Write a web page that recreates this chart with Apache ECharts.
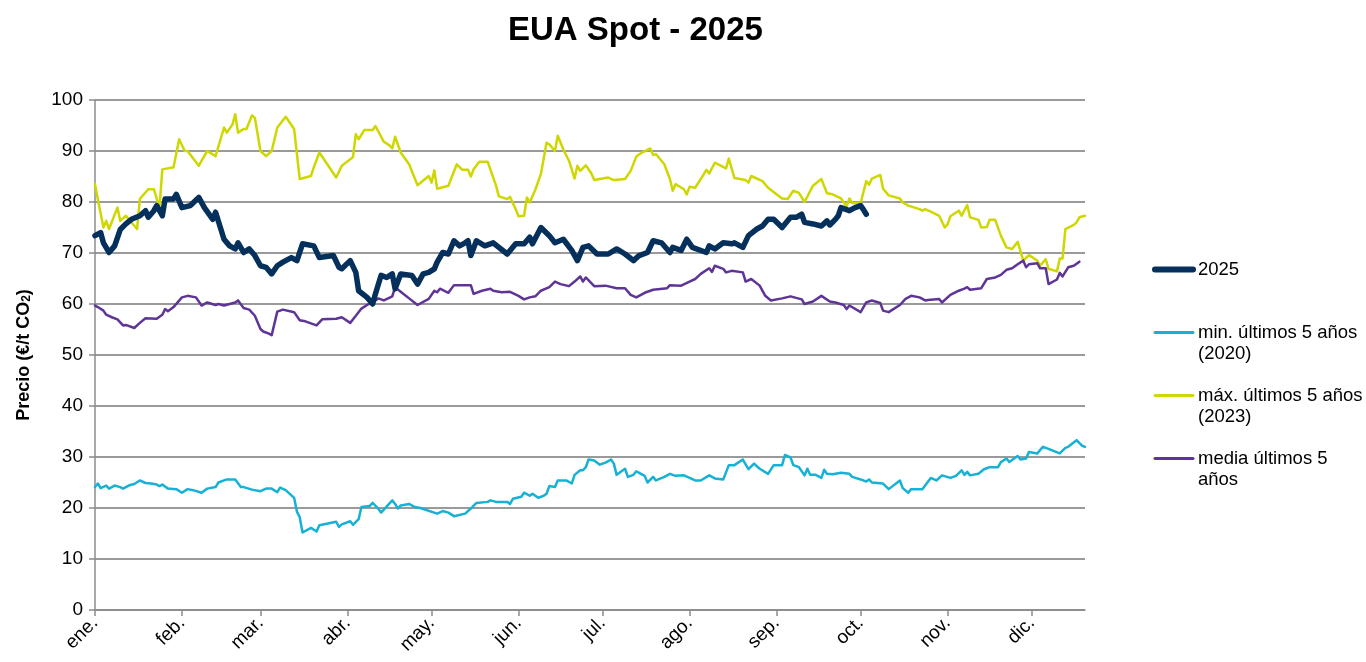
<!DOCTYPE html>
<html><head><meta charset="utf-8">
<script src="https://cdn.jsdelivr.net/npm/echarts@6/dist/echarts.min.js"></script>
<style>html,body{margin:0;padding:0;background:#fff}#c{width:1366px;height:662px}</style>
</head><body><div id="c"></div>
<script>
const YEAR = 2025;
const monthLabels = ['ene.','feb.','mar.','abr.','may.','jun.','jul.','ago.','sep.','oct.','nov.','dic.'];
const axisStart = '01-01', axisEnd = '12-20';
const yTicks = {min: 0, max: 100, step: 10};
const names = ['2025', 'min. últimos 5 años\n(2020)', 'máx. últimos 5 años\n(2023)', 'media últimos 5\naños'];

// 2025
const dates2025 = ['01-01','01-03','01-04','01-06','01-08','01-10','01-12','01-14','01-17','01-19','01-20','01-22','01-23','01-25','01-26','01-29','01-30',
'02-01','02-04','02-07','02-09','02-12','02-13','02-16','02-18','02-20','02-21','02-23','02-25','02-27',
'03-01','03-03','03-05','03-07','03-09','03-12','03-14','03-16','03-20','03-22','03-27','03-29','03-30',
'04-02','04-04','04-05','04-08','04-10','04-11','04-13','04-15','04-17','04-18','04-20','04-24','04-26','04-28','04-30',
'05-02','05-03','05-05','05-07','05-09','05-11','05-13','05-14','05-15','05-17','05-20','05-23','05-25','05-28','05-31',
'06-03','06-05','06-06','06-09','06-12','06-14','06-17','06-20','06-22','06-24','06-26','06-29',
'07-03','07-06','07-09','07-12','07-14','07-17','07-19','07-22','07-25','07-26','07-29','07-31',
'08-02','08-07','08-08','08-10','08-13','08-16','08-17','08-20','08-22','08-25','08-27','08-29','08-31',
'09-03','09-06','09-08','09-10','09-11','09-14','09-17','09-19','09-20','09-22','09-23','09-24','09-27','09-29',
'10-01','10-02','10-03'];
const values2025 = [73.4,74,72,70.1,71.4,74.6,75.7,76.6,77.3,78.3,77,78.3,79.3,77.3,80.6,80.6,81.5,
78.9,79.3,80.9,78.9,76.6,78,72.7,71.4,70.8,72,70.1,70.8,69.5,
67.5,67.2,65.9,67.5,68.2,69.1,68.5,71.8,71.4,69.1,69.5,67.2,66.9,
68.5,66.2,62.6,61.3,60,62,65.6,65.2,65.9,63,65.9,65.6,63.9,65.9,66.2,
66.9,68.2,70.1,69.8,72.4,71.4,72,72.4,69.5,72.4,71.4,72,71.1,69.8,71.8,
71.8,73.1,71.8,75,73.4,72,72.7,70.5,68.5,71.1,71.4,69.8,
69.8,70.8,69.8,68.5,69.5,70.1,72.4,72,70.1,71.1,70.5,72.7,
71.1,70.1,71.4,70.8,72,71.8,72,71.1,73.4,74.7,75.3,76.6,76.6,
75,77,77,77.6,76,75.7,75.3,76.3,75.5,76.6,77.3,78.9,78.3,78.9,
79.3,78.5,77.6];

// min últimos 5 años (2020)
const datesMin = ['01-01','01-02','01-03','01-05','01-06','01-08','01-10','01-11','01-13','01-15','01-17','01-19','01-21','01-23','01-24','01-25','01-27','01-30',
'02-01','02-03','02-05','02-08','02-10','02-13','02-14','02-17','02-20','02-22','02-23','02-26',
'03-01','03-03','03-05','03-07','03-08','03-10','03-13','03-14','03-15','03-16','03-19','03-21','03-22','03-28','03-29','03-30',
'04-02','04-03','04-05','04-06','04-09','04-10','04-12','04-13','04-17','04-18','04-19','04-20','04-23','04-25','04-27',
'05-03','05-05','05-07','05-09','05-13','05-15','05-17','05-21','05-22','05-24','05-28','05-29','05-30',
'06-02','06-03','06-05','06-06','06-08','06-10','06-11','06-12','06-14','06-15','06-18','06-20','06-21','06-23','06-24','06-25','06-26','06-28','06-30',
'07-02','07-04','07-05','07-06','07-09','07-10','07-12','07-13','07-16','07-17','07-19','07-20','07-23','07-25','07-27','07-30',
'08-03','08-05','08-08','08-10','08-13','08-15','08-17','08-20','08-22','08-24','08-26','08-29','08-31',
'09-03','09-04','09-06','09-07','09-09','09-11','09-12','09-13','09-15','09-17','09-18','09-19','09-21','09-24','09-27','09-28',
'10-01','10-03','10-04','10-05','10-09','10-11','10-15','10-16','10-18','10-19','10-23','10-26','10-28','10-30',
'11-02','11-04','11-06','11-07','11-08','11-09','11-12','11-14','11-16','11-19','11-20','11-22','11-23','11-26','11-27','11-29','11-30',
'12-03','12-05','12-07','12-11','12-13','12-14','12-17','12-19','12-20'];
const valuesMin = [24.1,24.8,23.9,24.4,23.8,24.4,24.1,23.8,24.4,24.7,25.4,24.9,24.8,24.6,24.3,24.6,23.8,23.7,
23,23.7,23.5,23,23.8,24.1,25,25.6,25.6,24.1,24.1,23.6,
23.3,23.8,23.8,23.1,24,23.5,22,19.3,18.2,15.2,16.1,15.4,16.6,17.3,16.3,16.8,
17.4,16.7,17.8,20.2,20.4,21,19.9,19.1,21.5,20.8,19.9,20.5,20.8,20.2,20,
18.9,19.4,19.1,18.4,18.9,19.9,21,21.2,21.5,21.2,21.2,20.8,21.8,
22.2,23,22.4,22.8,22,22.4,22.8,24.3,24.1,25.4,25.4,24.8,26.5,27.4,27.4,28,29.5,29.3,28.5,
28.9,29.5,28.7,26.5,27.7,26.1,26.5,27.2,26.3,25,26.1,25.4,26.1,26.7,26.3,26.4,
25.4,25.4,26.4,25.8,25.6,28.4,28.4,29.5,27.6,28.7,27.7,26.7,28.4,
28.4,30.4,29.9,28.4,28,26.4,27.7,26.5,26.5,25.9,27.5,26.7,26.6,26.9,26.7,26.1,
25.6,25.2,25.6,25,24.8,23.7,25.4,23.9,23,23.7,23.7,25.9,25.4,26.4,
25.9,26.3,27.4,26.5,27.1,26.4,26.7,27.6,28,28,29,29.7,29,30.2,29.5,29.7,31,
30.7,32,31.6,30.7,31.8,32,33.3,32.2,32];

// máx últimos 5 años (2023)
const datesMax = ['01-01','01-02','01-04','01-05','01-06','01-09','01-10','01-12','01-16','01-17','01-20','01-22','01-24','01-25','01-29','01-31',
'02-02','02-03','02-07','02-08','02-10','02-13','02-16','02-17','02-19','02-20','02-21','02-23','02-24','02-26','02-27',
'03-01','03-03','03-05','03-07','03-10','03-13','03-15','03-19','03-20','03-22','03-28','03-30',
'04-03','04-04','04-05','04-07','04-10','04-11','04-14','04-16','04-17','04-18','04-20','04-23','04-26','04-30',
'05-01','05-02','05-03','05-07','05-10','05-12','05-14','05-15','05-16','05-18','05-21','05-24','05-25','05-28','05-29','05-31',
'06-01','06-03','06-04','06-05','06-07','06-09','06-11','06-12','06-14','06-15','06-17','06-19','06-21','06-22','06-23','06-25','06-27','06-28',
'07-03','07-05','07-09','07-11','07-13','07-15','07-18','07-19','07-20','07-23','07-25','07-26','07-27','07-30','07-31',
'08-01','08-03','08-05','08-07','08-08','08-10','08-14','08-15','08-17','08-21','08-22','08-23','08-27','08-29',
'09-01','09-03','09-05','09-07','09-09','09-11','09-14','09-17','09-19','09-21','09-24','09-26','09-27','09-28',
'10-01','10-03','10-04','10-05','10-08','10-09','10-11','10-15','10-16','10-18','10-22','10-23','10-24','10-26','10-29','10-31',
'11-01','11-02','11-05','11-06','11-08','11-09','11-12','11-13','11-15','11-16','11-18','11-20','11-22','11-24','11-26','11-28','11-30',
'12-03','12-04','12-06','12-07','12-10','12-11','12-12','12-13','12-16','12-17','12-18','12-20'];
const valuesMax = [83.5,80.6,75,76.3,74.7,78.9,76.3,77.3,74.7,80.6,82.5,82.5,78.9,86.4,86.8,92.3,
90,90,87.1,88.1,90,89,94.6,93.6,95.2,97.2,93.6,94.3,94.3,97,96.5,
90,89,90,94.6,96.7,94.3,84.5,85.1,86.8,89.7,84.8,87.1,
88.8,93.3,92.3,94.1,94.1,94.9,91.8,91.1,90.5,92.8,89.7,87.4,83.3,85.1,
83.8,86.2,82.6,83.2,87.4,86.3,86.3,85,86.4,87.9,87.9,83.2,81.1,80.6,81,78.6,
77.2,77.3,80.9,79.9,82.4,85.5,91.6,91.3,90,93,90.3,88.1,84.6,87.1,86.1,87.2,85.6,84.3,
84.8,84.3,84.5,86.1,88.9,89.7,90.5,89.2,89.4,87.4,84.5,82.2,83.5,82.5,81.5,
83,82.8,84.5,86.3,85.6,87.7,86.6,88.5,84.7,84.3,83.8,85.1,84.1,82.8,
81.5,80.7,80.6,82.2,81.8,80,83.2,84.5,81.7,81.5,80.7,79.1,80.7,79.8,
79.8,84.1,83.4,84.6,85.3,82.6,81.3,80.7,79.9,79.3,78.6,78.3,78.6,78.1,77.3,75,
75.6,77.2,78.3,77.3,79.4,77,76.5,75,75.1,76.5,76.5,73.4,71.1,70.8,72.2,68.5,69.6,
68.5,67.5,68.8,66.9,66.4,68.9,68.9,74.7,75.5,76,77,77.3];

// media últimos 5 años
const datesAvg = ['01-01','01-02','01-04','01-05','01-07','01-09','01-11','01-12','01-15','01-17','01-19','01-23','01-25','01-26','01-27','01-29',
'02-01','02-03','02-06','02-08','02-10','02-13','02-14','02-16','02-20','02-21','02-23','02-25','02-27',
'03-01','03-02','03-04','03-05','03-07','03-09','03-13','03-15','03-17','03-21','03-23','03-28','03-30',
'04-02','04-04','04-06','04-08','04-11','04-12','04-14','04-17','04-18','04-20','04-23','04-26','04-30',
'05-02','05-03','05-04','05-07','05-09','05-15','05-16','05-19','05-22','05-23','05-26','05-29',
'06-01','06-03','06-05','06-07','06-09','06-12','06-14','06-16','06-19','06-21','06-23','06-24','06-25','06-28',
'07-02','07-06','07-09','07-11','07-13','07-16','07-19','07-24','07-25','07-29',
'08-01','08-03','08-05','08-08','08-09','08-10','08-13','08-14','08-16','08-20','08-21','08-23','08-26','08-28','08-30',
'09-03','09-06','09-10','09-11','09-14','09-17','09-20','09-22','09-25','09-26','09-27',
'10-01','10-03','10-05','10-08','10-09','10-11','10-15','10-17','10-19','10-22','10-24','10-25','10-29','10-30',
'11-02','11-05','11-07','11-08','11-09','11-13','11-15','11-18','11-20','11-22','11-24','11-26','11-28','11-29','11-30',
'12-03','12-04','12-06','12-07','12-10','12-11','12-12','12-14','12-16','12-18'];
const valuesAvg = [59.7,59.4,58.7,57.9,57.4,57,55.8,55.9,55.3,56.3,57.2,57.1,57.9,59,58.6,59.4,
61.3,61.6,61.3,59.7,60.3,59.8,60,59.7,60.3,60.7,59.2,58.9,57.7,
55.1,54.6,54.2,53.9,58.5,58.9,58.4,56.8,56.6,55.8,57,57.1,57.4,
56.3,57.7,59.1,59.8,60.7,61.1,60.7,61.5,63.3,62.4,61.1,59.8,61,
62.6,62.3,63,62.2,63.7,63.7,62,62.6,63,62.6,62.3,62.4,
61.6,60.9,61.3,61.5,62.6,63.3,64.4,63.9,63.5,64.4,65.4,64.4,65.2,63.5,
63.6,63.1,63.1,61.8,61.3,62.2,62.8,63.1,63.7,63.6,
64.4,64.9,65.9,67,66.3,67.5,66.9,66.2,66.5,66.2,64.4,64.9,63.6,61.6,60.7,
61.1,61.5,60.9,60,60.5,61.6,60.5,60.3,59.8,59,59.7,
58.4,60.3,60.7,60.2,58.7,58.4,59.8,61,61.6,61.3,60.7,60.8,61,60.3,
61.8,62.6,63,63.3,62.8,63.1,64.9,65.2,65.7,66.7,67,67.8,68.5,67.2,67.8,
68,67,67,63.9,64.8,66.1,65.4,67.2,67.5,68.3];

function ts(md) { const p = md.split('-').map(Number); return new Date(YEAR, p[0] - 1, p[1]).getTime(); }
function pairs(ds, vs) { return ds.map((d, i) => [ts(d), vs[i]]); }
const monthStarts = monthLabels.map((_, i) => new Date(YEAR, i, 1).getTime());

const FONT = 'Liberation Sans, Arial, sans-serif';
const axisGray = '#8c8c8c';
const colors = ['#05305c', '#17b1d6', '#cfd700', '#5e3596'];

const chart = echarts.init(document.getElementById('c'), null, {renderer: 'canvas'});

function lineSeries(name, data, color, width, z) {
  return {
    name: name, type: 'line', data: data, symbol: 'none', showSymbol: false,
    lineStyle: {color: color, width: width, cap: 'round', join: 'round'},
    itemStyle: {color: color}, z: z, emphasis: {disabled: true}
  };
}

chart.setOption({
  animation: false,
  backgroundColor: '#fff',
  textStyle: {fontFamily: FONT},
  title: {
    text: 'EUA Spot - 2025', left: 503, top: 9,
    textStyle: {fontSize: 33, fontWeight: 'bold', color: '#000', fontFamily: FONT}
  },
  grid: {left: 95, right: 281, top: 100, bottom: 52, containLabel: false, outerBoundsMode: 'none'},
  legend: {
    orient: 'vertical', left: 1152, top: 238, padding: 0, itemGap: 0,
    itemWidth: 38, itemHeight: 14,
    itemStyle: {opacity: 0},
    textStyle: {fontSize: 18.5, lineHeight: 21, color: '#000', fontFamily: FONT},
    formatter: function (name) {
      return name.indexOf('\n') >= 0 ? '\u00a0\n' + name : '\u00a0\n' + name + '\n\u00a0';
    },
    data: [
      {name: names[0], lineStyle: {width: 6, color: colors[0], cap: 'round'}},
      {name: names[1], lineStyle: {width: 3, color: colors[1]}},
      {name: names[2], lineStyle: {width: 3, color: colors[2]}},
      {name: names[3], lineStyle: {width: 3, color: colors[3]}}
    ]
  },
  xAxis: {
    type: 'value', min: ts(axisStart), max: ts(axisEnd),
    axisLine: {show: true, onZero: true, lineStyle: {color: axisGray, width: 1.5}},
    axisTick: {show: true, customValues: monthStarts, length: 6, lineStyle: {color: axisGray, width: 1.5}},
    axisLabel: {
      customValues: monthStarts, rotate: 45, fontSize: 19, color: '#000', margin: 10, hideOverlap: false,
      showMinLabel: true, showMaxLabel: true,
      formatter: function (v) { return monthLabels[new Date(v).getMonth()]; }
    },
    splitLine: {show: false}
  },
  yAxis: {
    type: 'value', min: yTicks.min, max: yTicks.max, interval: yTicks.step,
    name: 'Precio (€/t CO{s|2})', nameLocation: 'middle', nameGap: 62, nameRotate: 90,
    nameTextStyle: {
      fontSize: 18, fontWeight: 'bold', color: '#000', fontFamily: FONT,
      rich: {s: {fontSize: 12, fontWeight: 'bold', color: '#000', verticalAlign: 'bottom', fontFamily: FONT}}
    },
    axisLine: {show: true, lineStyle: {color: axisGray, width: 1.5}},
    axisTick: {show: true, length: 6, lineStyle: {color: axisGray, width: 1.5}},
    axisLabel: {fontSize: 19, color: '#000', margin: 12},
    splitLine: {show: true, lineStyle: {color: '#9a9a9a', width: 2}}
  },
  series: [
    lineSeries(names[0], pairs(dates2025, values2025), colors[0], 5.5, 10),
    lineSeries(names[1], pairs(datesMin, valuesMin), colors[1], 2.5, 3),
    lineSeries(names[2], pairs(datesMax, valuesMax), colors[2], 2.5, 3),
    lineSeries(names[3], pairs(datesAvg, valuesAvg), colors[3], 2.5, 4)
  ]
});
</script>
</body></html>
